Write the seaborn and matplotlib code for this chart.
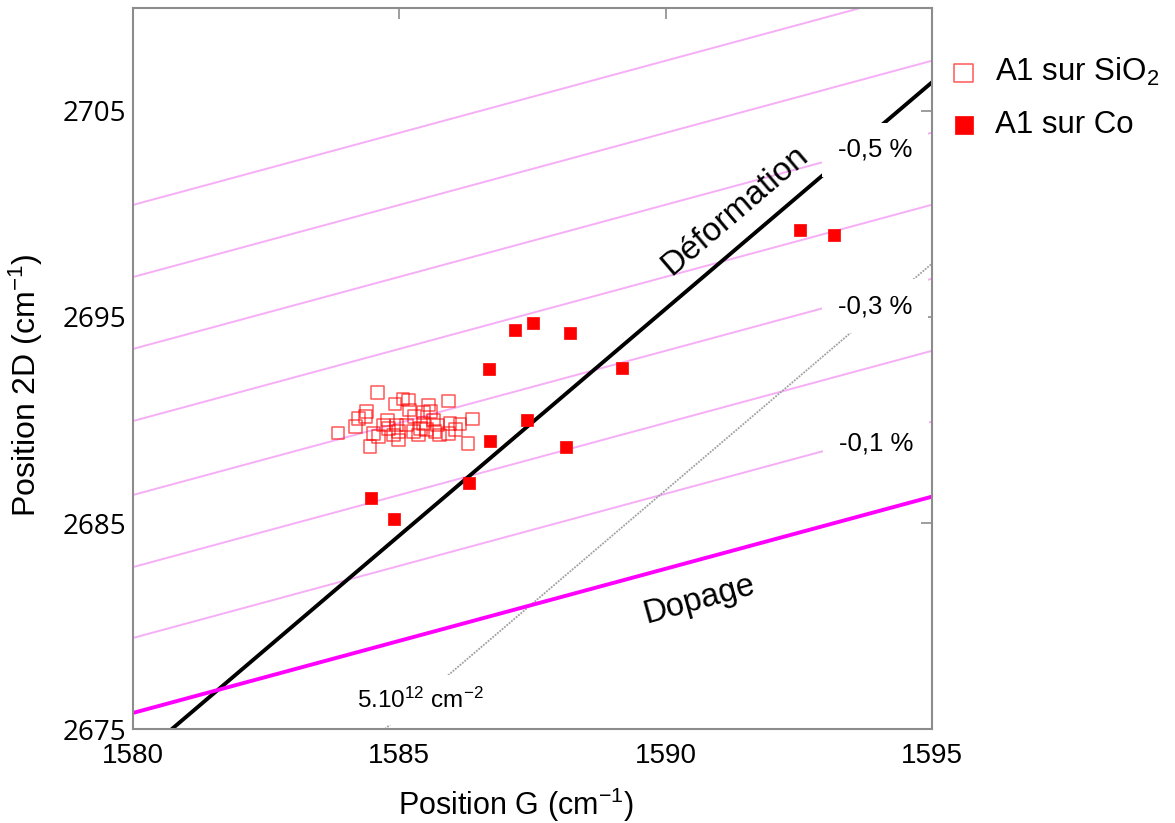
#%% Imports
import matplotlib
matplotlib.use("Agg")
import matplotlib.pyplot as plt
import seaborn as sns

#%% Data
# A1 on SiO2 : G and 2D positions (cm-1)
sio2_g = [1584.59, 1584.17, 1584.39, 1584.36, 1584.92, 1585.07, 1585.17, 1585.54,
          1585.92, 1585.19, 1585.46, 1585.58, 1584.78, 1584.95, 1585.71, 1585.95,
          1586.38, 1586.14, 1584.51, 1584.61, 1584.45, 1584.98, 1584.98, 1585.26,
          1585.36, 1585.67, 1585.92, 1586.06, 1586.29, 1585.45, 1585.64, 1585.29,
          1584.79, 1585.14, 1584.89, 1585.51, 1585.76, 1584.23, 1584.70, 1585.39,
          1583.85]
sio2_2d = [2691.35, 2689.68, 2690.40, 2690.16, 2690.78, 2691.02, 2690.97, 2690.73,
           2690.92, 2690.49, 2690.35, 2690.40, 2690.00, 2689.76, 2689.76, 2689.84,
           2690.05, 2689.81, 2689.35, 2689.19, 2688.70, 2689.43, 2689.03, 2689.43,
           2689.27, 2689.43, 2689.35, 2689.52, 2688.87, 2689.84, 2690.00, 2690.16,
           2689.60, 2689.76, 2689.27, 2689.52, 2689.27, 2690.08, 2689.76, 2689.60,
           2689.37]

# A1 on Co
co_g = [1584.47, 1584.90, 1586.31, 1586.70, 1586.68, 1587.17, 1587.51,
        1587.40, 1588.20, 1588.13, 1589.18, 1592.52, 1593.16]
co_2d = [2686.21, 2685.19, 2686.94, 2688.98, 2692.48, 2694.37, 2694.71,
         2690.00, 2694.22, 2688.69, 2692.52, 2699.22, 2698.98]

# Reference lines : a point (G, 2D) and a slope
doping_point = (1580.0, 2675.78)
doping_slope = 0.70
strain_point = (1580.73, 2675.0)
strain_slope = 2.2
density_point = (1584.73, 2675.0)
# iso-strain lines, 2D value at G = 1580
iso_strain_2d = [2679.42, 2682.86, 2686.36, 2689.95, 2693.45, 2696.94, 2700.44]

strain_labels = ["-0,5 %", "-0,3 %", "-0,1 %"]
strain_label_g = [1593.93, 1593.93, 1593.95]
strain_label_2d = [2703.11, 2695.53, 2688.88]

x_ticks = [1580, 1585, 1590, 1595]
y_ticks = [2675, 2685, 2695, 2705]

#%% Style
sns.set_style("white")
plt.rcParams['font.family'] = ['Liberation Sans', 'DejaVu Sans']
plt.rcParams['text.color'] = 'black'
plt.rcParams['axes.labelcolor'] = 'black'
plt.rcParams['xtick.labelcolor'] = 'black'
plt.rcParams['ytick.labelcolor'] = 'black'
plt.rcParams['mathtext.fontset'] = 'custom'
plt.rcParams['mathtext.rm'] = 'Liberation Sans'
plt.rcParams['mathtext.it'] = 'Liberation Sans:italic'
plt.rcParams['mathtext.bf'] = 'Liberation Sans:bold'

fig = plt.figure(figsize=(11.75, 8.23), dpi=100)
ax = fig.add_axes([0.1132, 0.1142, 0.6800, 0.8761])

#%% Lines
for y0 in iso_strain_2d:
    ax.axline((doping_point[0], y0), slope=doping_slope, color='#f6aef6', lw=1.4, zorder=1)
ax.axline(density_point, slope=strain_slope, color='#a0a0a0', lw=1.3,
          linestyle=(0, (1, 0.7)), zorder=2)
ax.axline(strain_point, slope=strain_slope, color='black', lw=2.8, zorder=2)
ax.axline(doping_point, slope=doping_slope, color='#ff00ff', lw=2.8, zorder=2)

#%% Points
sns.scatterplot(x=sio2_g, y=sio2_2d, marker='s', s=85, facecolors='none',
                edgecolor='#ff0000', linewidth=1.1, alpha=0.65, ax=ax,
                label='A1 sur SiO$_2$', zorder=4)
sns.scatterplot(x=co_g, y=co_2d, marker='s', s=85, color='#ff0000',
                edgecolor='#ff0000', linewidth=0.5, ax=ax,
                label='A1 sur Co', zorder=5)

#%% Labels on the chart
box = dict(boxstyle='square,pad=0.6', fc='white', ec='none')
for txt, gx, gy in zip(strain_labels, strain_label_g, strain_label_2d):
    ax.text(gx, gy, txt, fontsize=18.5, ha='center', va='center', bbox=box, zorder=3)
ax.text(1585.39, 2676.41, r'5.10$^{12}$ cm$^{-2}$', fontsize=17.5, ha='center',
        va='center', bbox=dict(boxstyle='square,pad=0.5', fc='white', ec='none'), zorder=3)
ax.text(1591.30, 2700.19, 'Déformation', fontsize=24, rotation=40.5,
        ha='center', va='center', rotation_mode='anchor', zorder=3)
ax.text(1590.64, 2681.26, 'Dopage', fontsize=23.5, rotation=15.5,
        ha='center', va='center', rotation_mode='anchor', zorder=3)

#%% Axes
ax.set_xlim(1580, 1595)
ax.set_ylim(2675, 2710)
ax.set_xticks(x_ticks)
ax.set_yticks(y_ticks)
ax.set_xticklabels([str(t) for t in x_ticks], fontsize=20)
ax.set_yticklabels([str(t) for t in y_ticks], family=['Open Sans', 'Liberation Sans'],
                   fontsize=20)
ax.tick_params(direction='in', length=8, width=1.2, color='#8c8c8c',
               top=True, right=True, pad=5)
ax.tick_params(axis='x', pad=10)
for sp in ax.spines.values():
    sp.set_color('#8c8c8c')
    sp.set_linewidth(1.5)
ax.set_xlabel('Position G (cm$^{-1}$)', fontsize=22)
ax.set_ylabel('Position 2D (cm$^{-1}$)', fontsize=23)
ax.xaxis.set_label_coords(0.479, -0.078)
ax.yaxis.set_label_coords(-0.11, 0.477)

ax.legend(loc='upper left', bbox_to_anchor=(0.783, 0.966), bbox_transform=fig.transFigure,
          frameon=False, fontsize=22.5, markerscale=1.45, handlelength=1.0,
          handletextpad=0.5, labelspacing=0.7, borderpad=0.4)

fig.savefig('out.png', dpi=100)
